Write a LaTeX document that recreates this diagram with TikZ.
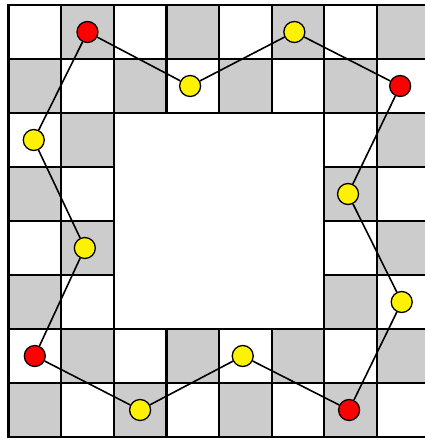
\documentclass[tikz,border=0pt]{standalone}
\definecolor{cellgrey}{RGB}{204,204,204}

\begin{document}
\begin{tikzpicture}[x=52.64pt, y=-54pt,
    cell/.style={draw=black, line width=2.2pt},
    knot/.style={circle, draw=black, line width=1.3pt, fill=#1,
                 minimum size=21pt, inner sep=0pt},
    tour/.style={draw=black, line width=1.6pt}]

  % frame of the picture, the board runs past the right edge
  \clip (-0.1615,-0.0926) rectangle (7.912,8.0185);

  % board: 8x8 with the middle 4x4 left empty
  \foreach \r in {0,...,7}{
    \foreach \c in {0,...,7}{
      \pgfmathtruncatemacro\hole{(\c>1)*(\c<6)*(\r>1)*(\r<6)}
      \pgfmathtruncatemacro\odd{mod(\r+\c,2)}
      \ifnum\hole=0
        \ifnum\odd=1
          \fill[cellgrey] (\c,\r) rectangle ++(1,1);
        \fi
      \fi
    }}
  \foreach \r in {0,...,7}{
    \foreach \c in {0,...,7}{
      \pgfmathtruncatemacro\hole{(\c>1)*(\c<6)*(\r>1)*(\r<6)}
      \ifnum\hole=0
        \draw[cell] (\c,\r) rectangle ++(1,1);
      \fi
    }}

  % knight positions round the ring
  \node[knot=red]    (r10) at (1.5,0.5) {};
  \node[knot=yellow] (y31) at (3.45,1.5) {};
  \node[knot=yellow] (y50) at (5.43,0.5) {};
  \node[knot=red]    (r71) at (7.44,1.5) {};
  \node[knot=yellow] (y63) at (6.45,3.5) {};
  \node[knot=yellow] (y75) at (7.47,5.5) {};
  \node[knot=red]    (r67) at (6.47,7.5) {};
  \node[knot=yellow] (y46) at (4.45,6.5) {};
  \node[knot=yellow] (y27) at (2.5,7.5) {};
  \node[knot=red]    (r06) at (0.5,6.5) {};
  \node[knot=yellow] (y14) at (1.45,4.5) {};
  \node[knot=yellow] (y02) at (0.48,2.5) {};

  % the closed tour
  \draw[tour] (r10) -- (y31) -- (y50) -- (r71) -- (y63) -- (y75)
    -- (r67) -- (y46) -- (y27) -- (r06) -- (y14) -- (y02) -- (r10);

\end{tikzpicture}
\end{document}
